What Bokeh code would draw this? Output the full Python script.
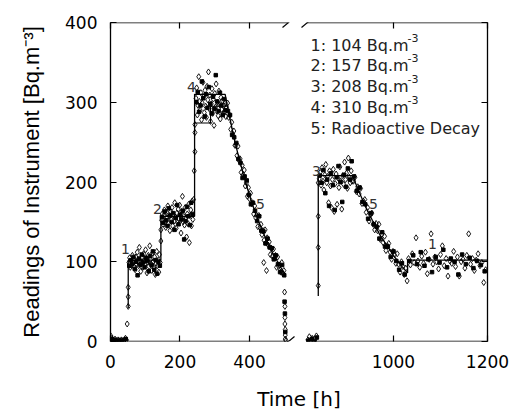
from bokeh.plotting import figure
from bokeh.models import Range1d, LinearAxis, FixedTicker, Arrow, CustomJSTickFormatter
from bokeh.core.properties import value
from bokeh.embed import file_html
from bokeh.resources import INLINE

# ---------------- data ----------------
# left part of the time axis (0 - ~510 h), open diamonds
t_base = [1, 4, 7, 10, 13, 16, 19, 22, 25, 28, 31, 34, 37, 40, 43, 46]
v_base = [7, 4, 2, 1, 3, 1, 0, 2, 1, 0, 2, 1, 0, 2, 4, 2]
t_rise1 = [48, 51, 51, 51]
v_rise1 = [22, 44, 56, 68]
t_step1 = [53, 55, 57, 59, 61, 63, 65, 67, 69, 71, 73, 75, 77, 79, 81, 83, 85, 87, 89, 91, 93, 95, 97,
           99, 101, 103, 105, 107, 109, 111, 113, 115, 117, 119, 121, 123, 125, 127, 129, 131, 133,
           135, 137, 139, 141, 143]
v_step1 = [99, 105, 93, 101, 96, 108, 99, 94, 103, 90, 106, 97, 112, 100, 95, 118, 102, 88, 105, 99,
           93, 110, 101, 96, 115, 104, 86, 100, 108, 94, 120, 103, 97, 89, 111, 100, 92, 106, 84, 98,
           113, 95, 102, 87, 109, 99]
t_rise2 = [145, 145]
v_rise2 = [126, 140]
t_step2 = [147, 149, 151, 153, 155, 157, 159, 161, 163, 165, 167, 169, 171, 173, 175, 177, 179, 181,
           183, 185, 187, 189, 191, 193, 195, 197, 199, 201, 203, 205, 207, 209, 211, 213, 215, 217,
           219, 221, 223, 225, 227, 229, 231, 233, 235, 237, 239]
v_step2 = [152, 160, 147, 158, 165, 150, 143, 162, 155, 170, 148, 157, 139, 163, 153, 168, 145, 159,
           151, 174, 156, 142, 161, 149, 166, 154, 171, 158, 136, 163, 182, 150, 157, 146, 168, 155,
           131, 160, 148, 172, 124, 158, 165, 145, 176, 153, 178]
t_rise3 = [241, 243, 243, 243]
v_rise3 = [214, 238, 262, 272]
t_step4 = [246, 248, 250, 252, 254, 256, 258, 260, 262, 264, 266, 268, 270, 272, 274, 276, 278, 280,
           282, 284, 286, 288, 290, 292, 294, 296, 298, 300, 302, 304, 306, 308, 310, 312, 314, 316,
           318, 320, 322, 324, 326, 328, 330, 332, 334]
v_step4 = [305, 318, 284, 296, 332, 301, 290, 312, 278, 299, 325, 307, 287, 315, 295, 281, 320, 303,
           338, 292, 309, 276, 298, 317, 286, 304, 271, 311, 294, 323, 289, 300, 283, 314, 297, 279,
           306, 291, 302, 285, 296, 288, 299, 282, 293]
t_decay1 = [337, 340, 343, 346, 349, 352, 355, 358, 361, 364, 367, 370, 373, 376, 379, 382, 385, 388,
            391, 394, 397, 400, 403, 406, 409, 412, 415, 418, 421, 424, 427, 430, 433, 436, 439, 442,
            445, 448, 451, 454, 457, 460, 463, 466, 469, 472, 475, 478, 481, 484, 487, 490, 493, 496, 499]
v_decay1 = [299, 281, 284, 266, 275, 260, 264, 246, 246, 233, 245, 227, 229, 212, 221, 209, 215, 195,
            199, 182, 193, 179, 186, 173, 174, 160, 170, 155, 158, 144, 158, 143, 147, 134, 139, 127,
            140, 124, 130, 121, 125, 109, 117, 107, 116, 105, 108, 93, 106, 94, 96, 87, 99, 85, 89]
t_drop = [441, 449, 501, 502, 502, 502, 503, 503, 503, 505]
v_drop = [99, 89, 62, 44, 30, 22, 15, 8, 3, 1]

# left part, filled squares
sq_t_base = [2, 8, 14, 20, 26, 32, 38, 44]
sq_v_base = [3, 1, 2, 0, 1, 1, 0, 3]
sq_t_step1 = [54, 58, 62, 66, 70, 74, 78, 82, 86, 90, 94, 98, 102, 106, 110, 114, 118, 122, 126, 130,
              134, 138, 142]
sq_v_step1 = [95, 102, 97, 106, 91, 100, 83, 104, 96, 109, 99, 93, 105, 101, 88, 107, 96, 113, 90, 102,
              85, 100, 95]
sq_t_step2 = [148, 152, 156, 160, 164, 168, 172, 176, 180, 184, 188, 192, 196, 200, 204, 208, 212, 216,
              220, 224, 228, 232, 236]
sq_v_step2 = [156, 149, 163, 152, 145, 167, 158, 150, 161, 140, 155, 171, 147, 159, 153, 164, 128, 151,
              169, 157, 146, 174, 160]
sq_t_step4 = [247, 251, 255, 259, 263, 267, 271, 275, 279, 283, 287, 291, 295, 299, 303, 307, 311, 315,
              319, 323, 327, 331]
sq_v_step4 = [300, 313, 288, 296, 326, 305, 282, 310, 293, 319, 298, 286, 307, 292, 334, 301, 289, 312,
              296, 284, 304, 290]
sq_t_decay1 = [338, 344, 350, 356, 362, 368, 374, 380, 386, 392, 398, 404, 410, 416, 422, 428, 434, 440,
               446, 452, 458, 464, 470, 476, 482, 488, 494, 500]
sq_v_decay1 = [289, 284, 259, 256, 249, 229, 224, 205, 207, 202, 184, 172, 174, 164, 151, 157, 139, 138,
               123, 129, 118, 117, 103, 108, 97, 87, 96, 83]
sq_t_drop = [501, 502, 503]
sq_v_drop = [50, 35, 12]

# right part of the time axis (~820 - 1200 h), open diamonds
t_base_r = [818, 821, 824, 827, 830, 833, 836]
v_base_r = [2, 6, 1, 4, 0, 3, 7]
t_rise_r = [840, 840, 840, 840]
v_rise_r = [70, 118, 157, 199]
t_step3 = [842, 844, 846, 848, 850, 852, 854, 856, 858, 860, 862, 864, 866, 868, 870, 872, 874, 876,
           878, 880, 882, 884, 886, 888, 890, 892, 894, 896, 898, 900, 902, 904, 906, 908, 910, 912]
v_step3 = [204, 212, 196, 218, 201, 190, 209, 222, 199, 207, 174, 214, 195, 168, 203, 216, 163, 198,
           210, 172, 205, 193, 219, 201, 166, 208, 197, 225, 203, 211, 192, 230, 206, 199, 214, 201]
t_decay2 = [915, 918, 921, 924, 927, 930, 933, 936, 939, 942, 945, 948, 951, 954, 957, 960, 963, 966,
            969, 972, 975, 978, 981, 984, 987, 990, 993, 996, 999, 1002, 1005, 1008, 1011, 1014, 1017,
            1020, 1023, 1026, 1029]
v_decay2 = [201, 206, 188, 194, 185, 192, 173, 176, 178, 162, 168, 151, 159, 161, 147, 140, 148, 139,
            147, 128, 134, 124, 132, 114, 120, 123, 112, 103, 113, 109, 98, 110, 97, 87, 100, 94, 84,
            92, 76]
t_step1r = [1032, 1036, 1040, 1044, 1048, 1052, 1056, 1060, 1064, 1068, 1072, 1076, 1080, 1084, 1088,
            1092, 1096, 1100, 1104, 1108, 1112, 1116, 1120, 1124, 1128, 1132, 1136, 1140, 1144, 1148,
            1152, 1156, 1160, 1164, 1168, 1172, 1176, 1180, 1184, 1188, 1192, 1196]
v_step1r = [104, 96, 110, 99, 130, 101, 93, 107, 98, 112, 85, 103, 135, 97, 106, 100, 91, 109, 120, 95,
            104, 82, 101, 98, 113, 94, 106, 82, 100, 103, 92, 108, 135, 97, 104, 89, 102, 110, 95, 99,
            74, 90]

# right part, filled squares
sq_t_base_r = [819, 826, 832, 837]
sq_v_base_r = [1, 3, 0, 5]
sq_t_step3 = [843, 847, 851, 855, 859, 863, 867, 871, 875, 879, 883, 887, 891, 895, 899, 903, 907, 911]
sq_v_step3 = [208, 199, 215, 186, 203, 170, 211, 196, 165, 206, 220, 200, 175, 209, 194, 217, 203, 226]
sq_t_decay2 = [916, 922, 928, 934, 940, 946, 952, 958, 964, 970, 976, 982, 988, 994, 1000, 1006, 1012,
               1018, 1024]
sq_v_decay2 = [207, 189, 193, 175, 172, 154, 161, 147, 144, 129, 137, 119, 119, 106, 113, 101, 90, 98, 84]
sq_t_step1r = [1034, 1042, 1050, 1058, 1066, 1074, 1082, 1090, 1098, 1106, 1114, 1122, 1130, 1138,
               1146, 1154, 1162, 1170, 1178, 1186, 1194]
sq_v_step1r = [101, 108, 97, 112, 95, 103, 87, 106, 99, 115, 93, 104, 100, 84, 109, 97, 105, 92, 101, 96, 88]

# model (step / decay) lines
line_t_left = [51, 51, 145, 145, 242, 242, 330, 337, 346, 355, 364, 373, 382, 391, 400, 409, 418, 427,
               436, 445, 454, 463, 472, 481, 490, 499, 503]
line_v_left = [42, 102, 102, 157, 157, 310, 310, 294, 275, 256, 240, 225, 210, 197, 183, 171, 160, 150,
               140, 131, 122, 114, 107, 100, 93, 87, 85]
line2_t_left = [242, 288, 288, 340]
line2_v_left = [274, 274, 295, 295]
line_t_right = [840, 840, 913, 925, 940, 955, 970, 985, 1000, 1015, 1030, 1030, 1200]
line_v_right = [57, 208, 208, 190, 170, 152, 135, 121, 108, 96, 86, 102, 102]

legend_lines = ["1: 104 Bq.m", "2: 157 Bq.m", "3: 208 Bq.m", "4: 310 Bq.m", "5: Radioactive Decay"]
legend_sup = ["-3", "-3", "-3", "-3"]
left_marks = ["1", "2", "4", "5"]
right_marks = ["3", "5", "1"]
y_ticks = [0, 100, 200, 300, 400]
x_ticks_left = [0, 200, 400]
x_ticks_right = [1000, 1200]

# ---------------- layout ----------------
L0, L1 = 0.0, 1085.0      # left-scale time range across the frame
R0, R1 = 398.0, 1200.0    # right-scale time range across the frame
FL, FR, FT, FB = 110, 487, 22, 341   # frame edges in page pixels


def lx(px):
    return L0 + (px - FL) * (L1 - L0) / (FR - FL)


def rx(px):
    return R0 + (px - FL) * (R1 - R0) / (FR - FL)


def vy(py):
    return (FB - py) * 400.0 / (FB - FT)


def l_of_r(t):
    return L0 + (t - R0) * (L1 - L0) / (R1 - R0)


FONT = "DejaVu Sans"

p = figure(width=511, height=414, x_range=Range1d(L0, L1), y_range=Range1d(0, 400),
           output_backend="svg", toolbar_location=None,
           min_border_left=FL, min_border_right=511 - FR, min_border_top=FT, min_border_bottom=414 - FB)
p.extra_x_ranges = {"right": Range1d(R0, R1)}
p.outline_line_color = None
p.background_fill_color = "white"
p.border_fill_color = "white"
p.grid.visible = False

EMPTY = CustomJSTickFormatter(code="return ''")


def style_axis(ax, ticks, show_labels):
    ax.ticker = FixedTicker(ticks=ticks)
    ax.major_tick_in = 6
    ax.major_tick_out = 0
    ax.minor_tick_line_color = None
    ax.major_tick_line_color = "black"
    ax.major_tick_line_width = 1.2
    ax.axis_line_color = "black"
    ax.axis_line_width = 1.3
    ax.major_label_text_font = FONT
    ax.major_label_text_color = "black"
    ax.major_label_text_font_size = "17px"
    if not show_labels:
        ax.formatter = EMPTY
        ax.major_label_standoff = 0


xt_all = x_ticks_left + [l_of_r(t) for t in x_ticks_right]

ax_b = p.below[0]
style_axis(ax_b, xt_all, True)
ax_b.axis_line_color = None
ax_b.major_label_standoff = 13
ax_b.formatter = CustomJSTickFormatter(args=dict(L0=L0, L1=L1, R0=R0, R1=R1), code="""
    if (tick > 600) { return (R0 + (tick - L0) * (R1 - R0) / (L1 - L0)).toFixed(0) }
    return tick.toFixed(0)
""")
ax_b.axis_label = "Time [h]"
ax_b.axis_label_text_font = FONT
ax_b.axis_label_text_font_size = "20px"
ax_b.axis_label_text_font_style = "normal"
ax_b.axis_label_text_color = "black"
ax_b.axis_label_standoff = 16

ax_l = p.left[0]
style_axis(ax_l, y_ticks, True)
ax_l.major_label_standoff = 13
ax_l.axis_label = "Readings of Instrument [Bq.m\u207b\u00b3]"
ax_l.axis_label_text_font = "Liberation Sans"
ax_l.axis_label_text_font_size = "22px"
ax_l.axis_label_text_font_style = "normal"
ax_l.axis_label_text_color = "black"
ax_l.axis_label_standoff = 18

ax_r = LinearAxis()
style_axis(ax_r, y_ticks, False)
p.add_layout(ax_r, "right")

ax_t = LinearAxis()
style_axis(ax_t, xt_all, False)
ax_t.axis_line_color = None
p.add_layout(ax_t, "above")

# frame lines top/bottom with the axis break
for yv in (0, 400):
    p.add_layout(Arrow(end=None, x_start=L0, y_start=yv, x_end=lx(288), y_end=yv,
                       line_color="black", line_width=1.3))
    p.add_layout(Arrow(end=None, x_start=rx(306), y_start=yv, x_end=R1, y_end=yv,
                       line_color="black", line_width=1.3, x_range_name="right"))
    yc = FB if yv == 0 else FT
    p.add_layout(Arrow(end=None, x_start=lx(282), y_start=vy(yc + 5), x_end=lx(294), y_end=vy(yc - 5),
                       line_color="black", line_width=1.2))
    p.add_layout(Arrow(end=None, x_start=rx(301), y_start=vy(yc + 5), x_end=rx(313), y_end=vy(yc - 5),
                       line_color="black", line_width=1.2, x_range_name="right"))

# assemble series
lt_d = t_base + t_rise1 + t_step1 + t_rise2 + t_step2 + t_rise3 + t_step4 + t_decay1 + t_drop
lv_d = v_base + v_rise1 + v_step1 + v_rise2 + v_step2 + v_rise3 + v_step4 + v_decay1 + v_drop
lt_s = sq_t_base + sq_t_step1 + sq_t_step2 + sq_t_step4 + sq_t_decay1 + sq_t_drop
lv_s = sq_v_base + sq_v_step1 + sq_v_step2 + sq_v_step4 + sq_v_decay1 + sq_v_drop
rt_d = t_base_r + t_rise_r + t_step3 + t_decay2 + t_step1r
rv_d = v_base_r + v_rise_r + v_step3 + v_decay2 + v_step1r
rt_s = sq_t_base_r + sq_t_step3 + sq_t_decay2 + sq_t_step1r
rv_s = sq_v_base_r + sq_v_step3 + sq_v_decay2 + sq_v_step1r

p.line(line_t_left, line_v_left, line_color="black", line_width=1.3)
p.line(line2_t_left, line2_v_left, line_color="black", line_width=1.1)
p.line(line_t_right, line_v_right, line_color="black", line_width=1.3, x_range_name="right")

p.scatter(lt_d, lv_d, marker="diamond", size=6, fill_color=None, line_color="black", line_width=0.9)
p.scatter(lt_s, lv_s, marker="square", size=3.5, fill_color="black", line_color="black")
p.scatter(rt_d, rv_d, marker="diamond", size=6, fill_color=None, line_color="black", line_width=0.9,
          x_range_name="right")
p.scatter(rt_s, rv_s, marker="square", size=3.5, fill_color="black", line_color="black",
          x_range_name="right")

# numbered marks on the curves
lm_px = [(125, 248), (157, 208), (191, 86), (260, 203)]
rm_px = [(316, 170), (373, 203), (432, 243)]
p.text([lx(a) for a, b in lm_px], [vy(b) for a, b in lm_px], text=left_marks,
       text_font=value(FONT), text_font_size=value("14px"), text_color="#333333",
       text_align="center", text_baseline="middle")
p.text([rx(a) for a, b in rm_px], [vy(b) for a, b in rm_px], text=right_marks,
       text_font=value(FONT), text_font_size=value("14px"), text_color="#333333",
       text_align="center", text_baseline="middle", x_range_name="right")

# legend block
row_y = [45, 65, 86, 107, 128]
p.text([rx(310)] * len(legend_lines), [vy(y) for y in row_y], text=legend_lines,
       text_font=value(FONT), text_font_size=value("16px"), text_color="#222222",
       text_align="left", text_baseline="middle", x_range_name="right")
p.text([rx(407)] * len(legend_sup), [vy(y - 8) for y in row_y[:4]], text=legend_sup,
       text_font=value(FONT), text_font_size=value("11px"), text_color="#222222",
       text_align="left", text_baseline="middle", x_range_name="right")

open("out.html", "w").write(file_html(p, INLINE))
